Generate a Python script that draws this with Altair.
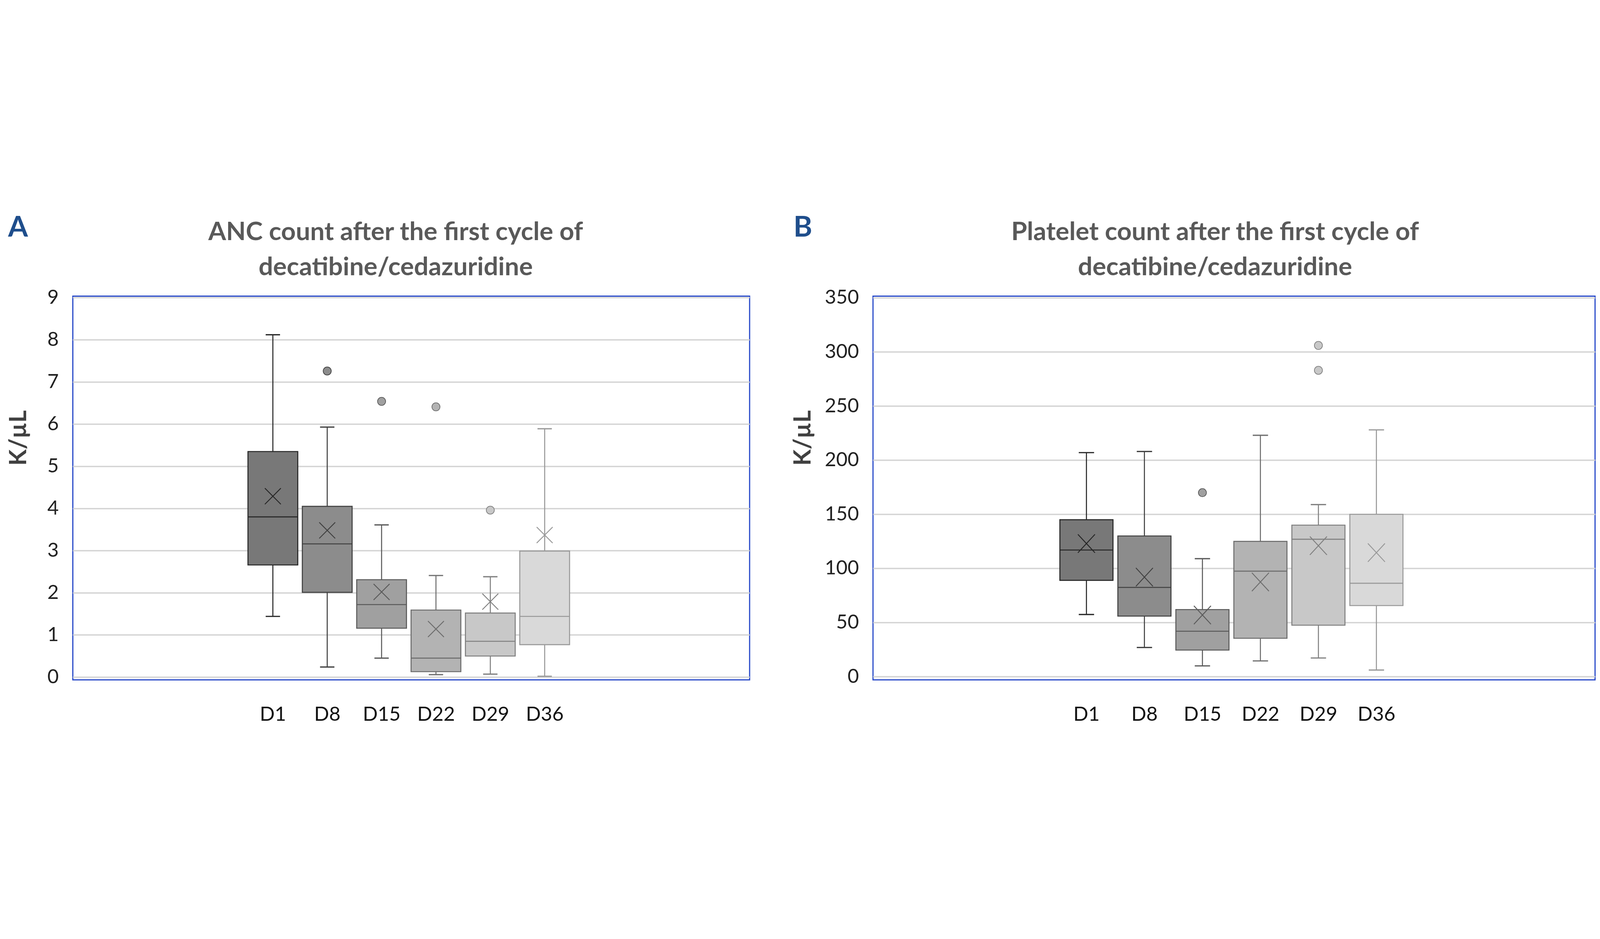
import altair as alt
import pandas as pd

# ---------------- data ----------------
days = ["D1", "D8", "D15", "D22", "D29", "D36"]

anc_title = ["ANC count after the first cycle of", "decatibine/cedazuridine"]
anc_min = [1.44, 0.24, 0.45, 0.06, 0.07, 0.02]
anc_q1 = [2.66, 2.01, 1.16, 0.13, 0.50, 0.77]
anc_median = [3.80, 3.16, 1.72, 0.45, 0.85, 1.44]
anc_q3 = [5.35, 4.05, 2.31, 1.59, 1.52, 2.99]
anc_max = [8.12, 5.93, 3.61, 2.41, 2.38, 5.89]
anc_mean = [4.29, 3.48, 2.02, 1.14, 1.79, 3.37]
anc_out_day = ["D8", "D15", "D22", "D29"]
anc_out_val = [7.26, 6.54, 6.41, 3.96]
anc_ticks = [0, 1, 2, 3, 4, 5, 6, 7, 8, 9]

plt_title = ["Platelet count after the first cycle of", "decatibine/cedazuridine"]
plt_min = [57.5, 27, 10, 14.6, 17.3, 6.2]
plt_q1 = [89, 56, 24.6, 35.5, 47.6, 65.7]
plt_median = [117, 82.5, 42, 97.5, 127, 86.3]
plt_q3 = [145, 130, 62, 125, 140, 150]
plt_max = [207, 208, 109, 223, 159, 228]
plt_mean = [123, 92, 57, 87.5, 121, 114.6]
plt_out_day = ["D15", "D29", "D29"]
plt_out_val = [170, 306, 283]
plt_ticks = [0, 50, 100, 150, 200, 250, 300, 350]

y_unit = "K/µL"

# ---------------- style ----------------
fill_palette = ["#787878", "#8c8c8c", "#a0a0a0", "#b3b3b3", "#c8c8c8", "#d9d9d9"]
stroke_palette = ["#262626", "#404040", "#5a5a5a", "#6e6e6e", "#808080", "#999999"]
FONT = "Lato"


def panel(title_lines, letter, lo, q1, med, q3, hi, mean, out_day, out_val,
          ydomain, yticks, width, ytitle_x, letter_x, title_x, mark_dy):
    pos_of = {d: i + 1 for i, d in enumerate(days)}
    df = pd.DataFrame({"day": days, "pos": [pos_of[d] for d in days],
                       "lo": lo, "q1": q1, "med": med, "q3": q3, "hi": hi, "mean": mean})
    odf = pd.DataFrame({"day": out_day, "val": out_val})
    odf["pos"] = odf["day"].map(pos_of)

    xs = alt.Scale(domain=[-2.68, 9.77], nice=False, zero=False)
    ys = alt.Scale(domain=ydomain, nice=False, zero=False)
    fill = alt.Fill("day:N", scale=alt.Scale(domain=days, range=fill_palette), legend=None)
    stroke = alt.Stroke("day:N", scale=alt.Scale(domain=days, range=stroke_palette), legend=None)
    stroke_plain = alt.Stroke("day:N")
    fill_plain = alt.Fill("day:N")
    label_expr = "[" + ",".join("'%s'" % d for d in days) + "][datum.value - 1]"

    xaxis = alt.Axis(values=list(range(1, len(days) + 1)), labelExpr=label_expr, grid=False,
                     ticks=False, domain=False, title=None, labelPadding=110,
                     labelFontSize=86, labelColor="#111111", labelFont=FONT)
    yaxis = alt.Axis(values=yticks, format="d", grid=True, gridColor="#d4d4d4", gridWidth=6,
                     ticks=False, domain=False, labelPadding=62, labelFontSize=86,
                     labelColor="#222222", labelFont=FONT, title=None)

    base = alt.Chart(df).transform_calculate(
        b0="datum.pos - 0.458", b1="datum.pos + 0.458",
        c0="datum.pos - 0.132", c1="datum.pos + 0.132",
        m0="datum.pos - 0.147", m1="datum.pos + 0.147",
        n0="datum.mean - %f" % mark_dy, n1="datum.mean + %f" % mark_dy)

    whisker = base.mark_rule(strokeWidth=4.5).encode(
        x=alt.X("pos:Q", scale=xs, axis=xaxis),
        y=alt.Y("lo:Q", scale=ys, axis=yaxis),
        y2="hi:Q", stroke=stroke)
    cap_hi = base.mark_rule(strokeWidth=5.5).encode(
        x="c0:Q", x2="c1:Q", y="hi:Q", stroke=stroke_plain)
    cap_lo = base.mark_rule(strokeWidth=5.5).encode(
        x="c0:Q", x2="c1:Q", y="lo:Q", stroke=stroke_plain)
    box = base.mark_rect(strokeWidth=4.5).encode(
        x="b0:Q", x2="b1:Q", y="q1:Q", y2="q3:Q",
        fill=fill, stroke=stroke_plain)
    median = base.mark_rule(strokeWidth=4.5).encode(
        x="b0:Q", x2="b1:Q", y="med:Q", stroke=stroke_plain)
    mean_a = base.mark_rule(strokeWidth=4).encode(
        x="m0:Q", x2="m1:Q", y="n0:Q", y2="n1:Q", stroke=stroke_plain)
    mean_b = base.mark_rule(strokeWidth=4).encode(
        x="m0:Q", x2="m1:Q", y="n1:Q", y2="n0:Q", stroke=stroke_plain)
    outl = alt.Chart(odf).mark_point(shape="circle", filled=True, size=1250,
                                     strokeWidth=3, opacity=1).encode(
        x="pos:Q", y="val:Q", fill=fill_plain, stroke=stroke_plain)
    letter_mark = alt.Chart(pd.DataFrame({"letter": [letter]})).mark_text(
        align="left", baseline="alphabetic", fontSize=125, fontWeight="bold",
        font=FONT, color="#1F4E8C").encode(
        text="letter:N", x=alt.value(letter_x), y=alt.value(-261))
    title_mark = alt.Chart(pd.DataFrame({"t": ["\n".join(title_lines)]})).mark_text(
        align="center", baseline="alphabetic", fontSize=112, fontWeight="bold",
        font=FONT, color="#595959", lineBreak="\n", lineHeight=153).encode(
        text="t:N", x=alt.value(title_x), y=alt.value(-245))
    ytitle_mark = alt.Chart(pd.DataFrame({"u": [y_unit]})).mark_text(
        align="center", baseline="middle", fontSize=104, fontWeight="bold", angle=270,
        font=FONT, color="#404040").encode(
        text="u:N", x=alt.value(ytitle_x), y=alt.value(621))

    return alt.layer(whisker, cap_hi, cap_lo, box, median, mean_a, mean_b, outl,
                     letter_mark, title_mark, ytitle_mark).properties(width=width, height=1680)


chart_a = panel(anc_title, "A",
                anc_min, anc_q1, anc_median, anc_q3, anc_max, anc_mean,
                anc_out_day, anc_out_val, [-0.065, 9.035], anc_ticks, 2962, -235, -283, 1413, 0.19)
chart_b = panel(plt_title, "B",
                plt_min, plt_q1, plt_median, plt_q3, plt_max, plt_mean,
                plt_out_day, plt_out_val, [-2.9, 351.5], plt_ticks, 3160, -305, -348, 1497, 8.5)

chart = alt.hconcat(chart_a, chart_b, spacing=177).properties(
    padding={"left": 15, "top": 90, "right": 5, "bottom": 5}
).configure(background="white").configure_view(stroke="#2446C8", strokeWidth=5)

chart.save("out.html", embed_options={"renderer": "svg", "actions": False})
